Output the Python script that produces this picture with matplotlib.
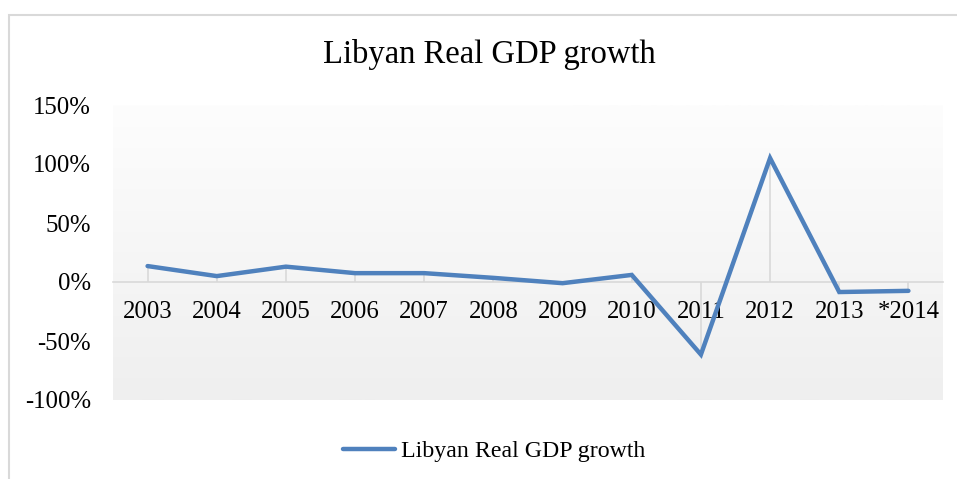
import numpy as np
from matplotlib import pyplot as plt
from matplotlib.colors import LinearSegmentedColormap
from matplotlib.patches import Rectangle

# Data
years = ['2003', '2004', '2005', '2006', '2007', '2008', '2009', '2010',
         '2011', '2012', '2013', '*2014']
growth = [13.5, 5.0, 13.0, 7.5, 7.5, 3.5, -1.0, 6.0, -61.5, 105.0, -8.5, -7.5]
title = 'Libyan Real GDP growth'
yticks = [-100, -50, 0, 50, 100, 150]

plt.rcParams['font.family'] = ['Liberation Serif', 'DejaVu Serif']

fig = plt.figure(figsize=(9.57, 4.79), dpi=100)
ax = fig.add_axes([113 / 957, 1 - 400 / 479, 830 / 957, 295 / 479])

# outer chart frame (cropped on right and bottom)
fig.patches.append(Rectangle((9 / 957, -0.1), 1.2, 1 - 15 / 479 + 0.1,
                             transform=fig.transFigure, fill=False,
                             edgecolor='#d9d9d9', linewidth=1.5))

x = np.arange(len(years))

# axis at zero first, so the tick settings below are kept
for s in ['top', 'right', 'left']:
    ax.spines[s].set_visible(False)
ax.spines['bottom'].set_position(('data', 0))
ax.spines['bottom'].set_color('#d9d9d9')
ax.spines['bottom'].set_linewidth(1.2)
ax.spines['bottom'].set_zorder(2)

# gradient plot area
grad = np.linspace(0, 1, 256).reshape(-1, 1)
ax.imshow(grad, extent=[0, 1, 0, 1], transform=ax.transAxes, aspect='auto',
          cmap=LinearSegmentedColormap.from_list('g', ['#fdfdfd', '#efefef']),
          zorder=0)

# drop lines
ax.vlines(x, 0, growth, color='#d9d9d9', linewidth=1.2, zorder=1)
ax.plot(x, growth, color='#4f81bd', linewidth=3.2, solid_capstyle='round',
        solid_joinstyle='miter', label=title, zorder=3)

ax.set_xlim(-0.5, len(years) - 0.5)
ax.set_ylim(-100, 150)
ax.set_xticks(x)
ax.set_xticklabels(years)
ax.set_yticks(yticks)
ax.set_yticklabels([f'{v}%' for v in yticks])
ax.tick_params(axis='both', length=0, labelsize=17.8)
ax.tick_params(axis='x', pad=14)
ax.tick_params(axis='y', pad=16)

fig.text(489 / 957, 1 - 55 / 479, title, ha='center', va='center', fontsize=23.5)

fig.legend(loc='center', bbox_to_anchor=(494 / 957, 1 - 451 / 479), frameon=False,
           fontsize=17.2, handlelength=2.2, handletextpad=0.25)

fig.savefig('out.png', dpi=100)
